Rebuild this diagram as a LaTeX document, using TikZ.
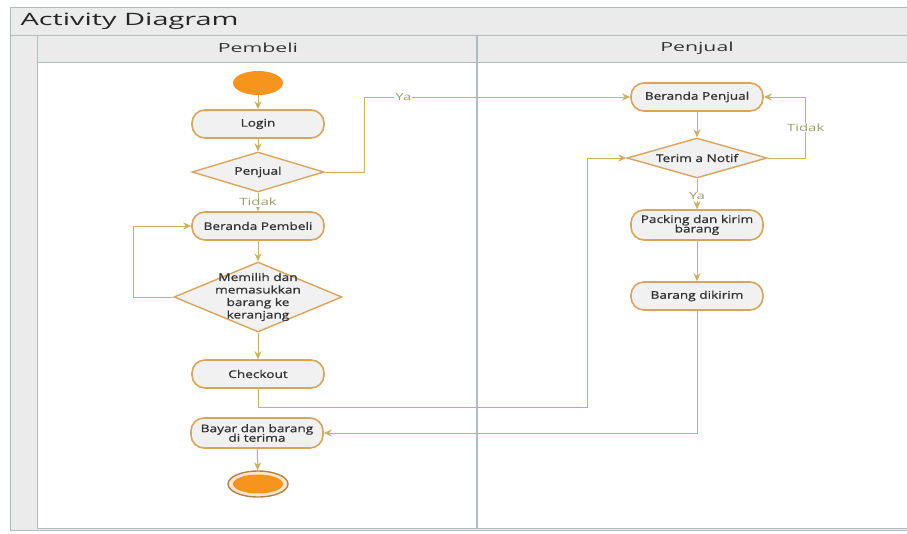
\documentclass[tikz,border=0pt]{standalone}
\usepackage{fontspec}
\setmainfont{Open Sans}
\newfontfamily\nodefont{Open Sans}[FakeStretch=1.3, FakeBold=1]
\newfontfamily\widefont{Open Sans}[FakeStretch=1.7]
\newfontfamily\guardfont{Open Sans}[FakeStretch=1.5]
\usetikzlibrary{shapes.geometric, arrows.meta}

\definecolor{edgeol}{HTML}{C9B25E}
\definecolor{nodebd}{HTML}{D9A45C}
\definecolor{nodefl}{HTML}{F1F1F1}
\definecolor{startor}{HTML}{F7941D}
\definecolor{ringfl}{HTML}{F8E6CC}
\definecolor{framegr}{HTML}{EBEBEB}
\definecolor{linegr}{HTML}{B3BCBC}
\definecolor{guardcl}{HTML}{9C9C6C}

\begin{document}
\begin{tikzpicture}[
		x=1pt, y=-1pt,
		>=Stealth,
		% action states (pill shaped)
		actbox/.style={
				rectangle, rounded corners=13pt, draw=nodebd, line width=1.6pt,
				fill=nodefl, minimum width=132pt, minimum height=28pt,
				font=\nodefont\fontsize{10.5}{11.5}\selectfont, text=black!80, align=center, inner sep=1pt
			},
		% decision diamonds
		decbox/.style={
				diamond, draw=nodebd, line width=1.4pt, fill=nodefl, aspect=3.3,
				minimum width=132pt, minimum height=40pt, inner sep=0pt,
				font=\nodefont\fontsize{10.5}{11.5}\selectfont, text=black!80, align=center
			},
		% connectors
		flow/.style={->, draw=edgeol, line width=1pt, >={Stealth[length=8pt, width=7pt]}},
		guard/.style={font=\guardfont\fontsize{10}{11}\selectfont, text=guardcl, fill=white, inner sep=1pt},
		lane/.style={font=\widefont\fontsize{12.5}{14}\selectfont, text=black!80}
	]

	\useasboundingbox (0,0) rectangle (907,533);

	% ---- frame and swimlanes ----
	\fill[white] (0,0) rectangle (907,533);
	\filldraw[fill=framegr, draw=linegr, line width=1pt] (10,7) rectangle (912,530);
	\fill[white] (37,62) rectangle (912,528);
	\draw[linegr, line width=1pt] (10,35) -- (912,35);
	\draw[linegr, line width=1pt] (37,62) -- (912,62);
	\draw[linegr, line width=1pt] (37,35) -- (37,528);
	\draw[linegr, line width=1.5pt] (477,35) -- (477,528);
	\draw[linegr, line width=1pt] (37,528) -- (912,528);

	\node[anchor=west, font=\widefont\fontsize{17}{18}\selectfont, text=black!85] (title) at (17,21) {Activity Diagram};
	\node[lane] (lanepemb) at (258,48) {Pembeli};
	\node[lane] (lanepenj) at (697,48) {Penjual};

	% ---- Pembeli ----
	\node[ellipse, fill=startor, minimum width=50pt, minimum height=24pt, inner sep=0pt] (start) at (258,83) {};
	\node[actbox] (login) at (258,124) {Login};
	\node[decbox] (cekpenj) at (258,172) {Penjual};
	\node[actbox] (bpemb) at (258,226) {Beranda Pembeli};
	\node[decbox, aspect=2.4, inner sep=-10pt, minimum width=168pt, minimum height=70pt,
		font=\nodefont\fontsize{10.5}{12.5}\selectfont] (memilih) at (258,297) {Memilih dan\\memasukkan\\barang ke\\keranjang};
	\node[actbox] (checkout) at (258,374) {Checkout};
	\node[actbox, minimum height=30pt] (bayar) at (257,433) {Bayar dan barang\\[-2pt]di terima};
	\node[ellipse, draw=nodebd!80!black, line width=1.4pt, fill=ringfl, minimum width=60pt, minimum height=26pt, inner sep=0pt] (finish) at (258,484) {};
	\node[ellipse, fill=startor, minimum width=50pt, minimum height=19pt, inner sep=0pt] (finishin) at (finish.center) {};

	% ---- Penjual ----
	\node[actbox] (bpenj) at (697,97) {Beranda Penjual};
	\node[decbox, minimum width=140pt] (notif) at (697,158) {Terim a Notif};
	\node[actbox, minimum height=30pt] (packing) at (697,225) {Packing dan kirim\\[-2pt]barang};
	\node[actbox] (dikirim) at (697,296) {Barang dikirim};

	% ---- flows ----
	\draw[flow] (start) -- (login);
	\draw[flow] (login) -- (cekpenj);
	\draw[flow] (cekpenj) -- node[guard, pos=0.5] {Tidak} (bpemb);
	\draw[flow] (cekpenj.east) -- ++(40,0) |- node[guard, pos=0.573] {Ya} (bpenj.west);
	\draw[flow] (bpemb) -- (memilih);
	\draw[flow] (memilih.west) -- ++(-40,0) |- (bpemb.west);
	\draw[flow] (memilih) -- (checkout);
	\draw[flow] (checkout.south) -- ++(0,19) -| ([xshift=-39pt]notif.west) -- (notif.west);

	\draw[flow] (bpenj) -- (notif);
	\draw[flow] (notif.east) -- ++(38,0) |- node[guard, pos=0.25] {Tidak} (bpenj.east);
	\draw[flow] (notif) -- node[guard, pos=0.58] {Ya} (packing);
	\draw[flow] (packing) -- (dikirim);
	\draw[flow] (dikirim.south) |- (bayar.east);
	\draw[flow] (bayar) -- (finish);

\end{tikzpicture}
\end{document}
